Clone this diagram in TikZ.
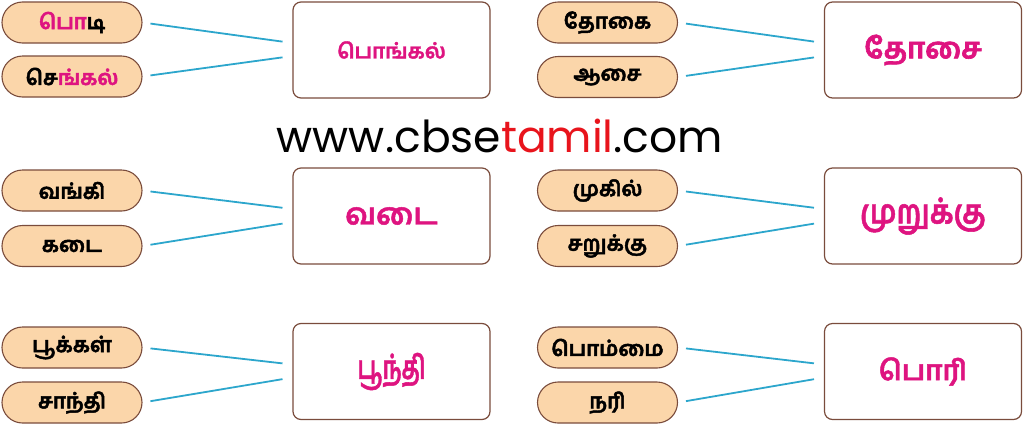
\documentclass[tikz,border=0pt]{standalone}
\usepackage{fontspec}
\newfontfamily\tam[Script=Tamil,FakeBold=1.6]{Hind Madurai}
\newfontfamily\tamb[Script=Tamil,FakeBold=2.2]{Hind Madurai}
\newfontfamily\web{Poppins}
\definecolor{peach}{RGB}{251,214,170}
\definecolor{brn}{RGB}{122,76,60}
\definecolor{mag}{RGB}{222,20,128}
\definecolor{lnk}{RGB}{44,166,204}
\definecolor{wred}{RGB}{232,20,28}
\tikzset{
  pill/.style={draw=brn, line width=1.1pt, fill=peach, rounded corners=20.5pt,
    minimum width=140pt, minimum height=41pt, inner sep=0pt,
    font=\tamb\bfseries\fontsize{21}{21}\selectfont, text=black},
  bigbox/.style={draw=brn, line width=1.2pt, fill=white, rounded corners=8pt,
    minimum width=197pt, minimum height=96pt, inner sep=0pt, text=mag},
  link/.style={draw=lnk, line width=1.8pt, shorten <=8pt, shorten >=10pt}
}
\begin{document}
\begin{tikzpicture}[x=1pt,y=-1pt]
\useasboundingbox (0,0) rectangle (1024,426);
% row 1 left
\node[pill] (a1) at (72,22.5) {{\color{mag}பொ}டி};
\node[pill] (a2) at (72,76.5) {செ{\color{mag}ங்கல்}};
\node[bigbox, font=\tam\bfseries\fontsize{21}{21}\selectfont] (A) at (391.5,50) {பொங்கல்};
% row 1 right
\node[pill] (b1) at (607.5,22.5) {தோகை};
\node[pill] (b2) at (607.5,77) {ஆசை};
\node[bigbox, font=\tamb\bfseries\fontsize{29}{29}\selectfont] (B) at (923,50) {தோசை};
% row 2 left
\node[pill] (c1) at (72,190.5) {வங்கி};
\node[pill] (c2) at (72,246) {கடை};
\node[bigbox, font=\tam\bfseries\fontsize{30}{30}\selectfont] (C) at (391.5,216) {வடை};
% row 2 right
\node[pill] (d1) at (607.5,190.5) {முகில்};
\node[pill] (d2) at (607.5,246) {சறுக்கு};
\node[bigbox, font=\tam\bfseries\fontsize{29}{29}\selectfont] (D) at (923,216) {\scalebox{1}[1.15]{முறுக்கு}};
% row 3 left
\node[pill] (e1) at (72,347.5) {பூக்கள்};
\node[pill] (e2) at (72,402.5) {சாந்தி};
\node[bigbox, font=\tam\bfseries\fontsize{25}{25}\selectfont] (E) at (391.5,371.5) {\scalebox{0.9}[1.3]{பூந்தி}};
% row 3 right
\node[pill] (f1) at (607.5,347.5) {பொம்மை};
\node[pill] (f2) at (607.5,402.5) {நரி};
\node[bigbox, font=\tam\bfseries\fontsize{28}{28}\selectfont] (F) at (923,371.5) {பொரி};
% links
\draw[link] (a1.east) -- ([yshift=7pt]A.west);
\draw[link] (a2.east) -- ([yshift=-6pt]A.west);
\draw[link] (b1.east) -- ([yshift=7pt]B.west);
\draw[link] (b2.east) -- ([yshift=-6pt]B.west);
\draw[link] (c1.east) -- ([yshift=7pt]C.west);
\draw[link] (c2.east) -- ([yshift=-6pt]C.west);
\draw[link] (d1.east) -- ([yshift=7pt]D.west);
\draw[link] (d2.east) -- ([yshift=-6pt]D.west);
\draw[link] (e1.east) -- ([yshift=7pt]E.west);
\draw[link] (e2.east) -- ([yshift=-6pt]E.west);
\draw[link] (f1.east) -- ([yshift=7pt]F.west);
\draw[link] (f2.east) -- ([yshift=-6pt]F.west);
% watermark
\node[font=\web\fontsize{44}{44}\selectfont, text=black, inner sep=0pt, anchor=base] (W) at (500,152) {www.cbse{\color{wred}tamil}.com};
\end{tikzpicture}
\end{document}
